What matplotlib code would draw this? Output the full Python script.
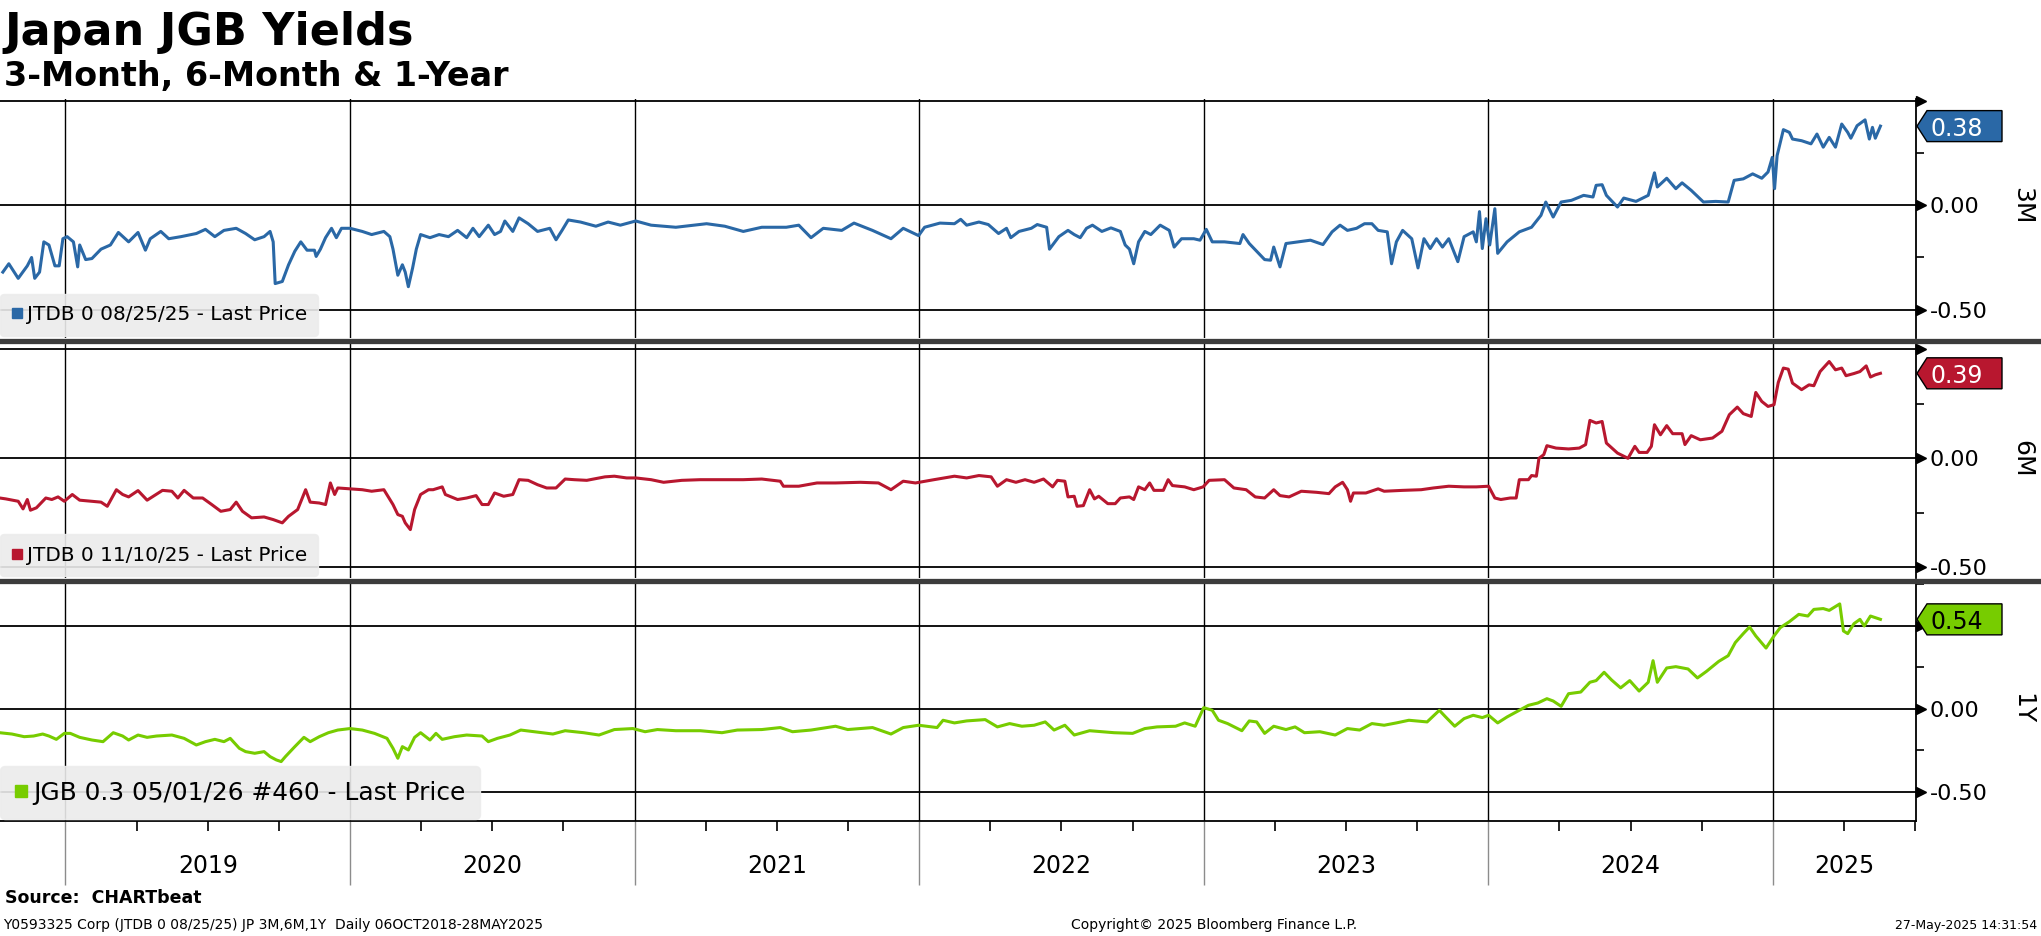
import matplotlib
matplotlib.use("Agg")
from matplotlib import pyplot as plt
import matplotlib.transforms as mtransforms
from matplotlib.patches import Polygon
from matplotlib.lines import Line2D

# dati (anno decimale, rendimento %)
pts_3m = [(2018.780,-0.32),(2018.801,-0.28),(2018.834,-0.35),(2018.866,-0.29),(2018.881,-0.25),(2018.892,-0.35),
    (2018.909,-0.32),(2018.924,-0.175),(2018.942,-0.19),(2018.963,-0.29),(2018.978,-0.29),(2018.991,-0.16),
    (2019.006,-0.15),(2019.028,-0.175),(2019.043,-0.295),(2019.050,-0.19),(2019.071,-0.26),(2019.093,-0.255),
    (2019.125,-0.21),(2019.158,-0.19),(2019.186,-0.13),(2019.222,-0.175),(2019.255,-0.13),(2019.281,-0.215),
    (2019.298,-0.16),(2019.335,-0.125),(2019.363,-0.16),(2019.406,-0.15),(2019.460,-0.135),(2019.492,-0.115),
    (2019.525,-0.15),(2019.557,-0.12),(2019.600,-0.11),(2019.633,-0.135),(2019.665,-0.165),(2019.698,-0.15),
    (2019.719,-0.125),(2019.730,-0.175),(2019.737,-0.375),(2019.762,-0.365),(2019.784,-0.285),(2019.806,-0.22),
    (2019.827,-0.175),(2019.849,-0.215),(2019.875,-0.215),(2019.881,-0.245),(2019.896,-0.21),(2019.914,-0.155),
    (2019.935,-0.11),(2019.952,-0.155),(2019.970,-0.11),(2020.000,-0.11),(2020.043,-0.125),(2020.076,-0.14),
    (2020.119,-0.125),(2020.140,-0.15),(2020.151,-0.21),(2020.168,-0.335),(2020.184,-0.285),(2020.194,-0.32),
    (2020.205,-0.39),(2020.220,-0.30),(2020.233,-0.21),(2020.248,-0.14),(2020.281,-0.155),(2020.313,-0.14),
    (2020.346,-0.15),(2020.378,-0.12),(2020.410,-0.155),(2020.432,-0.11),(2020.454,-0.15),(2020.486,-0.095),
    (2020.508,-0.14),(2020.529,-0.125),(2020.544,-0.075),(2020.572,-0.125),(2020.594,-0.06),(2020.626,-0.088),
    (2020.659,-0.125),(2020.702,-0.11),(2020.724,-0.165),(2020.745,-0.12),(2020.767,-0.07),(2020.810,-0.08),
    (2020.864,-0.10),(2020.907,-0.08),(2020.950,-0.095),(2021.004,-0.075),(2021.058,-0.095),(2021.145,-0.105),
    (2021.253,-0.088),(2021.317,-0.10),(2021.382,-0.125),(2021.447,-0.105),(2021.533,-0.105),(2021.577,-0.095),
    (2021.620,-0.155),(2021.663,-0.11),(2021.728,-0.12),(2021.771,-0.085),(2021.836,-0.12),(2021.901,-0.16),
    (2021.944,-0.11),(2021.998,-0.145),(2022.019,-0.105),(2022.073,-0.085),
    (2022.124,-0.088),(2022.146,-0.067),(2022.167,-0.095),(2022.210,-0.08),(2022.243,-0.092),(2022.279,-0.135),
    (2022.307,-0.11),(2022.322,-0.155),(2022.351,-0.125),(2022.394,-0.11),(2022.415,-0.092),(2022.448,-0.105),
    (2022.458,-0.21),(2022.491,-0.15),(2022.523,-0.12),(2022.545,-0.14),(2022.566,-0.155),(2022.588,-0.11),
    (2022.609,-0.095),(2022.642,-0.125),(2022.674,-0.108),(2022.707,-0.125),(2022.724,-0.19),(2022.739,-0.21),
    (2022.754,-0.28),(2022.771,-0.175),(2022.793,-0.125),(2022.814,-0.14),(2022.847,-0.095),(2022.879,-0.12),
    (2022.896,-0.20),(2022.922,-0.16),(2022.965,-0.16),(2022.987,-0.167),(2023.009,-0.115),(2023.030,-0.175),
    (2023.073,-0.175),(2023.127,-0.183),(2023.138,-0.14),(2023.160,-0.183),(2023.186,-0.22),(2023.214,-0.26),
    (2023.235,-0.263),(2023.246,-0.20),(2023.268,-0.295),(2023.289,-0.183),(2023.332,-0.175),(2023.375,-0.167),
    (2023.419,-0.188),(2023.451,-0.127),(2023.479,-0.095),(2023.505,-0.12),(2023.537,-0.11),(2023.565,-0.088),
    (2023.591,-0.088),(2023.613,-0.12),(2023.645,-0.127),(2023.660,-0.28),(2023.677,-0.175),(2023.699,-0.12),
    (2023.731,-0.16),(2023.753,-0.30),(2023.774,-0.16),(2023.796,-0.207),(2023.818,-0.16),(2023.839,-0.20),
    (2023.861,-0.16),(2023.893,-0.27),(2023.915,-0.15),(2023.947,-0.127),(2023.958,-0.175),(2023.969,-0.03),
    (2023.979,-0.207),(2023.992,-0.064),(2024.005,-0.19),(2024.023,-0.016),(2024.033,-0.23),(2024.066,-0.175),
    (2024.109,-0.127),(2024.152,-0.105),(2024.185,-0.048),(2024.202,0.016),(2024.228,-0.056),(2024.256,0.016),
    (2024.292,0.024),(2024.335,0.048),(2024.368,0.04),(2024.379,0.096),(2024.400,0.099),(2024.415,0.048),
    (2024.454,-0.008),(2024.476,0.035),(2024.519,0.019),(2024.562,0.048),(2024.584,0.156),(2024.594,0.088),
    (2024.627,0.13),(2024.659,0.08),(2024.681,0.108),(2024.713,0.072),(2024.756,0.016),(2024.799,0.019),
    (2024.843,0.016),(2024.864,0.12),(2024.896,0.127),(2024.929,0.151),(2024.961,0.13),(2024.983,0.16),
    (2024.998,0.23),(2025.006,0.08),(2025.015,0.239),(2025.037,0.363),(2025.058,0.35),(2025.069,0.318),
    (2025.101,0.31),(2025.134,0.295),(2025.155,0.342),(2025.177,0.279),(2025.198,0.326),(2025.220,0.279),
    (2025.242,0.39),(2025.263,0.35),(2025.274,0.322),(2025.296,0.382),(2025.324,0.41),(2025.339,0.318),
    (2025.350,0.374),(2025.360,0.322),(2025.378,0.38)]

pts_6m = [(2018.769,-0.182),(2018.790,-0.186),(2018.834,-0.197),(2018.851,-0.232),(2018.866,-0.189),(2018.877,-0.238),
    (2018.898,-0.227),(2018.931,-0.182),(2018.952,-0.189),(2018.974,-0.177),(2018.996,-0.197),(2019.024,-0.166),
    (2019.050,-0.192),(2019.093,-0.197),(2019.125,-0.201),(2019.147,-0.22),(2019.179,-0.144),(2019.201,-0.166),
    (2019.222,-0.177),(2019.255,-0.148),(2019.287,-0.192),(2019.341,-0.147),(2019.374,-0.151),(2019.395,-0.182),
    (2019.417,-0.147),(2019.449,-0.182),(2019.482,-0.182),(2019.514,-0.212),(2019.546,-0.243),(2019.579,-0.235),
    (2019.600,-0.201),(2019.622,-0.243),(2019.654,-0.273),(2019.698,-0.269),(2019.730,-0.281),(2019.762,-0.296),
    (2019.784,-0.266),(2019.816,-0.235),(2019.844,-0.144),(2019.860,-0.201),(2019.892,-0.205),(2019.914,-0.212),
    (2019.931,-0.113),(2019.946,-0.166),(2019.957,-0.136),(2020.000,-0.14),(2020.043,-0.144),(2020.076,-0.151),
    (2020.119,-0.144),(2020.151,-0.212),(2020.168,-0.258),(2020.184,-0.266),(2020.194,-0.296),(2020.212,-0.327),
    (2020.227,-0.235),(2020.248,-0.166),(2020.276,-0.144),(2020.292,-0.144),(2020.324,-0.131),(2020.335,-0.166),
    (2020.378,-0.189),(2020.410,-0.182),(2020.443,-0.171),(2020.464,-0.212),(2020.486,-0.212),(2020.508,-0.159),
    (2020.540,-0.174),(2020.572,-0.166),(2020.594,-0.098),(2020.626,-0.101),(2020.659,-0.121),(2020.691,-0.136),
    (2020.724,-0.136),(2020.756,-0.095),(2020.788,-0.098),(2020.832,-0.101),(2020.896,-0.085),(2020.929,-0.082),
    (2020.972,-0.09),(2021.004,-0.09),(2021.058,-0.098),(2021.102,-0.11),(2021.166,-0.101),(2021.231,-0.098),
    (2021.274,-0.098),(2021.382,-0.098),(2021.447,-0.095),(2021.512,-0.105),(2021.523,-0.128),(2021.577,-0.128),
    (2021.641,-0.113),(2021.706,-0.113),(2021.793,-0.11),(2021.857,-0.113),(2021.901,-0.144),(2021.944,-0.105),
    (2021.987,-0.113),(2022.052,-0.098),
    (2022.124,-0.082),(2022.167,-0.09),(2022.210,-0.079),(2022.253,-0.085),(2022.275,-0.128),(2022.307,-0.098),
    (2022.340,-0.11),(2022.372,-0.098),(2022.404,-0.11),(2022.437,-0.095),(2022.469,-0.131),(2022.486,-0.101),
    (2022.512,-0.105),(2022.523,-0.177),(2022.545,-0.174),(2022.555,-0.22),(2022.577,-0.217),(2022.599,-0.144),
    (2022.616,-0.186),(2022.631,-0.174),(2022.663,-0.208),(2022.689,-0.208),(2022.707,-0.182),(2022.739,-0.177),
    (2022.754,-0.189),(2022.771,-0.131),(2022.793,-0.144),(2022.810,-0.113),(2022.825,-0.147),(2022.858,-0.147),
    (2022.875,-0.098),(2022.890,-0.125),(2022.933,-0.131),(2022.965,-0.144),(2022.998,-0.131),(2023.019,-0.101),
    (2023.073,-0.098),(2023.106,-0.136),(2023.149,-0.144),(2023.181,-0.177),(2023.214,-0.182),(2023.246,-0.144),
    (2023.268,-0.171),(2023.300,-0.177),(2023.343,-0.151),(2023.397,-0.156),(2023.440,-0.162),(2023.462,-0.131),
    (2023.488,-0.11),(2023.505,-0.144),(2023.516,-0.197),(2023.526,-0.159),(2023.570,-0.159),(2023.613,-0.14),
    (2023.634,-0.151),(2023.699,-0.147),(2023.764,-0.144),(2023.807,-0.136),(2023.861,-0.128),(2023.915,-0.131),
    (2023.958,-0.131),(2024.001,-0.128),(2024.023,-0.182),(2024.044,-0.189),(2024.077,-0.182),(2024.098,-0.182),
    (2024.109,-0.098),(2024.141,-0.098),(2024.152,-0.079),(2024.169,-0.082),(2024.178,0.0),(2024.195,0.017),
    (2024.206,0.058),(2024.238,0.047),(2024.282,0.043),(2024.320,0.047),(2024.342,0.063),(2024.357,0.174),
    (2024.379,0.162),(2024.400,0.169),(2024.415,0.07),(2024.454,0.024),(2024.491,0.0),(2024.515,0.055),
    (2024.530,0.027),(2024.558,0.027),(2024.573,0.055),(2024.584,0.154),(2024.605,0.108),(2024.627,0.15),
    (2024.648,0.113),(2024.681,0.113),(2024.691,0.063),(2024.713,0.104),(2024.745,0.085),(2024.788,0.093),
    (2024.821,0.124),(2024.847,0.2),(2024.875,0.235),(2024.896,0.205),(2024.924,0.192),(2024.940,0.302),
    (2024.961,0.261),(2024.983,0.238),(2025.004,0.246),(2025.019,0.348),(2025.037,0.414),(2025.054,0.409),
    (2025.069,0.345),(2025.101,0.315),(2025.127,0.337),(2025.144,0.333),(2025.166,0.398),(2025.198,0.444),
    (2025.220,0.406),(2025.242,0.414),(2025.257,0.379),(2025.285,0.389),(2025.306,0.398),(2025.328,0.424),
    (2025.343,0.373),(2025.360,0.383),(2025.378,0.39)]

pts_1y = [(2018.769,-0.143),(2018.812,-0.151),(2018.855,-0.167),(2018.888,-0.163),(2018.920,-0.151),(2018.942,-0.163),
    (2018.968,-0.183),(2018.996,-0.147),(2019.017,-0.147),(2019.050,-0.171),(2019.093,-0.187),(2019.132,-0.197),
    (2019.168,-0.143),(2019.201,-0.163),(2019.222,-0.187),(2019.255,-0.157),(2019.287,-0.171),(2019.320,-0.163),
    (2019.374,-0.157),(2019.417,-0.177),(2019.460,-0.217),(2019.492,-0.197),(2019.525,-0.183),(2019.557,-0.197),
    (2019.579,-0.177),(2019.611,-0.237),(2019.633,-0.257),(2019.665,-0.267),(2019.698,-0.257),(2019.719,-0.287),
    (2019.741,-0.307),(2019.758,-0.317),(2019.773,-0.287),(2019.806,-0.227),(2019.838,-0.171),(2019.860,-0.197),
    (2019.892,-0.167),(2019.924,-0.143),(2019.957,-0.127),(2020.000,-0.118),(2020.043,-0.127),(2020.086,-0.147),
    (2020.130,-0.177),(2020.151,-0.237),(2020.168,-0.297),(2020.184,-0.227),(2020.205,-0.247),(2020.227,-0.171),
    (2020.248,-0.143),(2020.281,-0.187),(2020.302,-0.147),(2020.324,-0.183),(2020.367,-0.167),(2020.410,-0.157),
    (2020.464,-0.163),(2020.486,-0.197),(2020.518,-0.177),(2020.562,-0.157),(2020.600,-0.127),(2020.648,-0.137),
    (2020.713,-0.151),(2020.756,-0.131),(2020.821,-0.143),(2020.875,-0.157),(2020.929,-0.124),(2020.994,-0.118),
    (2021.037,-0.137),(2021.080,-0.124),(2021.145,-0.131),(2021.231,-0.131),(2021.307,-0.143),(2021.361,-0.127),
    (2021.447,-0.124),(2021.512,-0.112),(2021.555,-0.137),(2021.620,-0.127),(2021.706,-0.104),(2021.749,-0.124),
    (2021.836,-0.112),(2021.901,-0.151),(2021.944,-0.112),(2021.998,-0.098),(2022.063,-0.112),(2022.084,-0.068),
    (2022.124,-0.084),(2022.167,-0.072),(2022.232,-0.064),(2022.275,-0.108),(2022.318,-0.088),(2022.361,-0.104),
    (2022.404,-0.098),(2022.443,-0.078),(2022.474,-0.127),(2022.512,-0.098),(2022.545,-0.157),(2022.599,-0.131),
    (2022.685,-0.143),(2022.750,-0.147),(2022.793,-0.118),(2022.836,-0.108),(2022.901,-0.104),(2022.933,-0.084),
    (2022.970,-0.104),(2023.000,0.008),(2023.030,-0.008),(2023.052,-0.068),(2023.084,-0.088),(2023.134,-0.131),
    (2023.160,-0.072),(2023.186,-0.078),(2023.214,-0.147),(2023.246,-0.104),(2023.289,-0.124),(2023.321,-0.108),
    (2023.354,-0.143),(2023.408,-0.137),(2023.462,-0.157),(2023.505,-0.118),(2023.548,-0.127),(2023.591,-0.088),
    (2023.634,-0.098),(2023.677,-0.084),(2023.721,-0.068),(2023.785,-0.078),(2023.828,-0.008),(2023.850,-0.048),
    (2023.882,-0.104),(2023.915,-0.058),(2023.947,-0.038),(2023.979,-0.052),(2024.001,-0.038),(2024.033,-0.084),
    (2024.066,-0.048),(2024.098,-0.018),(2024.141,0.022),(2024.174,0.036),(2024.206,0.062),(2024.228,0.048),
    (2024.256,0.016),(2024.282,0.092),(2024.325,0.102),(2024.357,0.161),(2024.379,0.171),(2024.407,0.221),
    (2024.433,0.175),(2024.465,0.127),(2024.497,0.171),(2024.530,0.108),(2024.562,0.161),(2024.579,0.291),
    (2024.594,0.161),(2024.627,0.247),(2024.659,0.255),(2024.702,0.241),(2024.735,0.187),(2024.767,0.227),
    (2024.810,0.287),(2024.843,0.321),(2024.868,0.4),(2024.896,0.454),(2024.918,0.494),(2024.940,0.44),
    (2024.976,0.367),(2025.004,0.44),(2025.026,0.49),(2025.058,0.526),(2025.091,0.57),(2025.123,0.56),
    (2025.144,0.6),(2025.177,0.605),(2025.198,0.594),(2025.235,0.633),(2025.248,0.47),(2025.263,0.454),
    (2025.285,0.514),(2025.306,0.54),(2025.321,0.5),(2025.343,0.56),(2025.360,0.55),(2025.378,0.54)]

serie_nomi = ["3M", "6M", "1Y"]
legende = ["JTDB 0 08/25/25 - Last Price", "JTDB 0 11/10/25 - Last Price", "JGB 0.3 05/01/26 #460 - Last Price"]
ultimi = ["0.38", "0.39", "0.54"]
anni = [2019, 2020, 2021, 2022, 2023, 2024, 2025]

colori = ["#2a68a6", "#b8172f", "#77cc00"]
testo_tag = ["white", "white", "black"]

W, H, DPI = 2041, 936, 100
XMIN, XMAX = 2018.77, 2025.503
RIGHT = 1916

fig = plt.figure(figsize=(W / DPI, H / DPI), dpi=DPI)

# pannelli: (top px, bottom px, ylim, fontsize legenda, tick minori)
pannelli = [(99, 338, (-0.636, 0.51), 14.4, [-0.25, 0.25]),
            (343, 578, (-0.549, 0.529), 14.4, [-0.25, 0.25]),
            (584, 821, (-0.675, 0.753), 17.9, [-0.25, 0.25, 0.75])]
tutti = [pts_3m, pts_6m, pts_1y]

ident = mtransforms.IdentityTransform()
axes = []
for i, (top, bot, ylim, fs_leg, minori) in enumerate(pannelli):
    ax = fig.add_axes([0, 1 - bot / H, RIGHT / W, (bot - top) / H])
    axes.append(ax)
    t, y = zip(*tutti[i])
    ax.plot(t, y, color=colori[i], lw=2.2, solid_joinstyle="round", zorder=3)
    ax.set_xlim(XMIN, XMAX)
    ax.set_ylim(*ylim)
    for s in ["left", "top", "bottom"]:
        ax.spines[s].set_visible(False)
    ax.spines["right"].set_linewidth(1.3)
    ax.yaxis.tick_right()
    ax.set_yticks([-0.5, 0, 0.5], ["-0.50", "0.00", ""])
    ax.set_yticks(minori, minor=True)
    ax.tick_params(axis="y", which="major", length=0, pad=10, labelsize=16)
    ax.tick_params(axis="y", which="minor", length=6, width=1.2, direction="out")
    ax.grid(axis="y", which="major", color="black", lw=1.3)
    ax.set_xticks(anni)
    ax.grid(axis="x", which="major", color="black", lw=1.0)
    ax.tick_params(axis="x", which="both", length=0, labelbottom=False)

    # frecce sui tick principali
    tr = mtransforms.blended_transform_factory(ax.transAxes, ax.transData)
    tr_arrow = tr + mtransforms.ScaledTranslation(0.045, 0, fig.dpi_scale_trans)
    ax.plot([1, 1, 1], [-0.5, 0, 0.5], ls="", marker=">", color="black", markersize=7,
            transform=tr_arrow, clip_on=False, zorder=4)

    # etichetta serie
    ax.text(1.0553, 0, serie_nomi[i], transform=tr, rotation=270, va="center", ha="center", fontsize=18)

    # tag ultimo valore
    v = float(ultimi[i])
    ax_x, ax_y = tr.transform((1.0, v))
    hh = 15.5
    verts = [(ax_x + 1, ax_y), (ax_x + 11, ax_y + hh), (ax_x + 86, ax_y + hh),
             (ax_x + 86, ax_y - hh), (ax_x + 11, ax_y - hh)]
    fig.add_artist(Polygon(verts, closed=True, facecolor=colori[i], edgecolor="black", lw=1.0,
                           transform=ident, zorder=6))
    fig.text(ax_x + 14, ax_y, ultimi[i], transform=ident, color=testo_tag[i], fontsize=17,
             va="center_baseline", ha="left", zorder=7)

    # legenda
    h = Line2D([], [], marker="s", ls="", color=colori[i], markersize=6.5 if fs_leg < 15 else 8)
    ax.legend([h], [legende[i]], loc="lower left", bbox_to_anchor=(0, 0.008), borderaxespad=0,
              fontsize=fs_leg, handlelength=0.5, handletextpad=0.25, borderpad=0.58,
              fancybox=True, facecolor="#ececec", edgecolor="#ececec", framealpha=0.9)

# asse x in basso
ax3 = axes[2]
ax3.spines["bottom"].set_visible(True)
ax3.spines["bottom"].set_linewidth(1.3)
trimestri = [a + q for a in range(2018, 2026) for q in (0.25, 0.5, 0.75) if XMIN < a + q < XMAX]
ax3.set_xticks(trimestri, minor=True)
ax3.tick_params(axis="x", which="major", length=46, width=1.0, color="#8c8c8c", direction="out")
ax3.tick_params(axis="x", which="minor", length=7, width=1.2, color="black", direction="out")
trx = mtransforms.blended_transform_factory(ax3.transData, ax3.transAxes)
for a in anni:
    mid = (max(a, XMIN) + min(a + 1, XMAX)) / 2
    ax3.text(mid, -0.19, str(a), transform=trx, ha="center", va="center", fontsize=17)

# separatori tra i pannelli
for ys in (340.5, 581):
    fig.add_artist(Line2D([0, 1], [1 - ys / H, 1 - ys / H], transform=fig.transFigure,
                          color="#3c3c3c", lw=3.8, zorder=8))

# titoli
fig.text(4 / W, 1 - 45 / H, "Japan JGB Yields", fontsize=32, fontweight="bold", va="baseline")
fig.text(4 / W, 1 - 86 / H, "3-Month, 6-Month & 1-Year", fontsize=24, fontweight="bold", va="baseline")

# piè di pagina
fig.text(5 / W, 1 - 898 / H, "Source:  CHARTbeat", fontsize=12.5, fontweight="bold", va="center")
fig.text(3 / W, 1 - 925 / H, "Y0593325 Corp (JTDB 0 08/25/25) JP 3M,6M,1Y  Daily 06OCT2018-28MAY2025",
         fontsize=10, va="center")
fig.text(1214 / W, 1 - 925 / H, "Copyright\u00a9 2025 Bloomberg Finance L.P.", fontsize=10, ha="center", va="center")
fig.text(2037 / W, 1 - 925 / H, "27-May-2025 14:31:54", fontsize=9, ha="right", va="center")

fig.savefig("out.png", dpi=DPI)
